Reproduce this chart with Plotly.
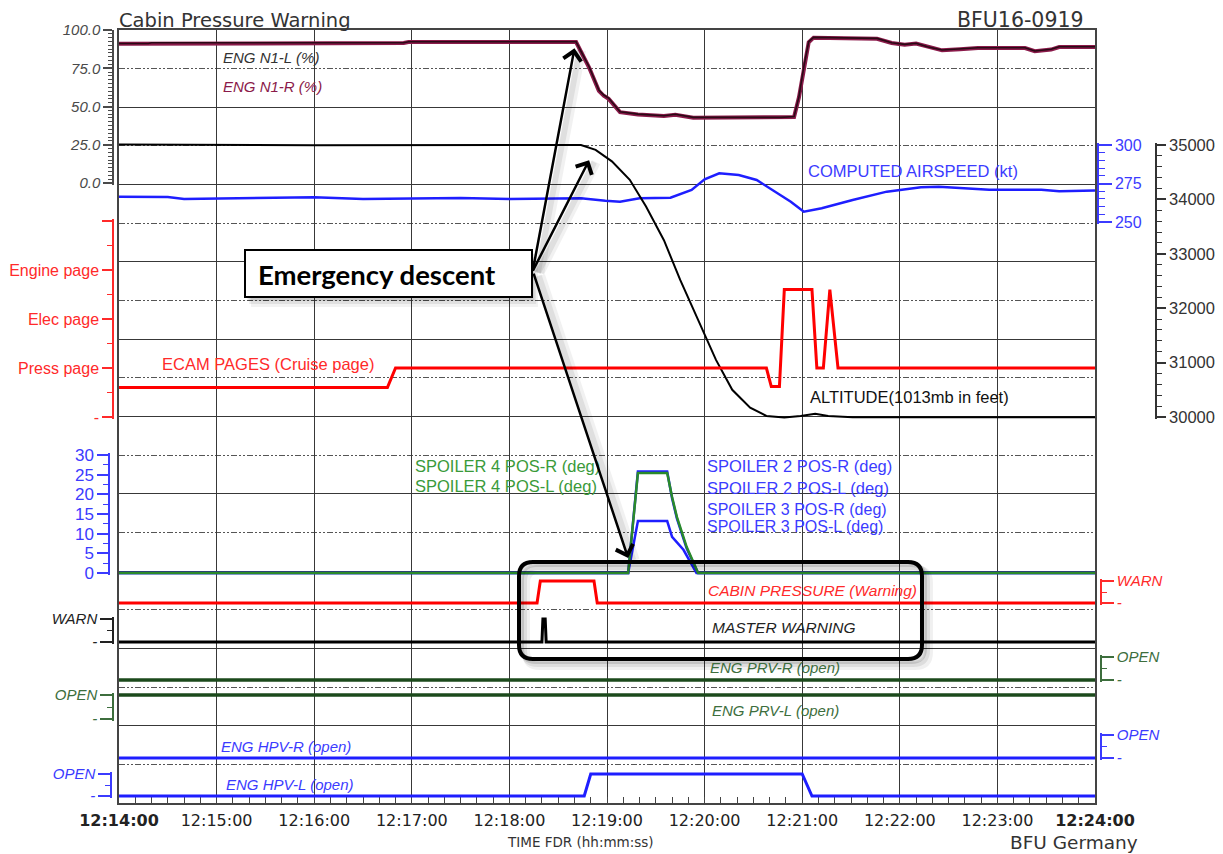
import plotly.graph_objects as go

DAY = "2016-09-19 "

# ---------------- data ----------------
n1_t = ["12:14:00","12:14:18","12:14:20","12:16:55","12:16:58","12:18:41","12:18:49","12:18:55","12:18:58","12:19:01",
        "12:19:08","12:19:19","12:19:35","12:19:42","12:19:53","12:20:16","12:20:47","12:20:55","12:20:58","12:21:01",
        "12:21:04","12:21:07","12:21:46","12:21:55","12:22:03","12:22:10","12:22:17","12:22:26","12:22:37","12:22:48",
        "12:23:17","12:23:23","12:23:33","12:23:38","12:24:00"]
n1_l = [91.2,91.2,91.7,91.7,92.3,92.3,76.0,60.8,57.5,55.5,
        46.6,45.0,44.0,44.9,42.9,42.9,42.9,43.4,56.4,76.0,
        92.3,95.2,94.5,91.7,90.6,91.3,89.1,86.9,87.6,88.4,
        88.4,86.3,87.4,89.1,89.1]
n1_r = [91.0,91.0,91.5,91.5,92.1,92.1,75.5,60.2,57.0,55.0,
        46.3,44.8,43.8,44.6,42.7,42.7,42.7,43.2,56.0,75.5,
        92.0,95.0,94.3,91.5,90.4,91.1,88.9,86.7,87.4,88.2,
        88.2,86.1,87.2,88.9,88.9]

alt_t = ["12:14:00","12:16:00","12:18:44","12:18:53","12:19:03","12:19:14","12:19:24","12:19:35","12:19:45","12:19:56",
         "12:20:07","12:20:17","12:20:28","12:20:38","12:20:49","12:20:59","12:21:08","12:21:16","12:21:31","12:22:03",
         "12:23:06","12:24:00"]
alt_ft = [35010,34995,35000,34910,34700,34360,33870,33250,32520,31780,
          31050,30500,30170,30020,29990,30020,30060,30020,29995,29995,
          30000,29995]

cas_t = ["12:14:00","12:14:30","12:14:40","12:15:30","12:16:00","12:16:30","12:17:00","12:17:30","12:18:00","12:18:31",
         "12:18:44","12:18:59","12:19:08","12:19:20","12:19:39","12:19:52","12:20:00","12:20:09","12:20:21","12:20:32",
         "12:20:42","12:20:53","12:21:01","12:21:12","12:21:31","12:21:52","12:22:13","12:22:24","12:22:55","12:23:27",
         "12:23:38","12:24:00"]
cas_kt = [266.4,266.2,265.0,265.8,266.0,265.0,265.2,265.6,265.0,265.4,
          265.4,263.8,263.2,265.4,265.8,270.8,277.7,281.6,280.5,277.3,
          270.8,263.2,256.7,258.9,264.3,269.7,272.5,272.9,271.0,271.0,
          270.0,270.4]

ecam_t = ["12:14:00","12:16:45","12:16:50","12:20:38","12:20:41","12:20:46","12:20:49","12:21:06","12:21:09","12:21:13",
          "12:21:17","12:21:22","12:24:00"]
ecam_v = [0.6,0.6,1.0,1.0,0.62,0.62,2.6,2.6,1.0,1.0,2.6,1.0,1.0]
ecam_ticks = ["-", "Press page", "Elec page", "Engine page", ""]

spo_t = ["12:14:00","12:19:13","12:19:19","12:19:37","12:19:40","12:19:43","12:19:49","12:19:56","12:24:00"]
sp4_deg = [0,0,25.4,25.4,19.3,14.2,6.6,0,0]
sp2_deg = [0,0,25.8,25.8,19.0,13.8,6.2,0,0]
sp3_t = ["12:14:00","12:19:13","12:19:19","12:19:37","12:19:40","12:19:47","12:19:55","12:24:00"]
sp3_deg = [0,0,13.2,13.2,9.2,5.9,0,0]

cp_t = ["12:14:00","12:18:17","12:18:19","12:18:52","12:18:54","12:24:00"]
cp_v = [0,0,1,1,0,0]
mw_t = ["12:14:00","12:18:20","12:18:20.6","12:18:22","12:18:22.6","12:24:00"]
mw_v = [0,0,1,1,0,0]
full_t = ["12:14:00","12:24:00"]
prv_r = [0,0]
prv_l = [1,1]
hpv_r = [0,0]
hpv_l_t = ["12:14:00","12:18:46","12:18:50","12:21:00","12:21:06","12:24:00"]
hpv_l = [0,0,1,1,0,0]

minutes = ["12:%02d:00" % m for m in range(14, 25)]

# ---------------- layout geometry (screen pixels; page has an 8px body margin) ----------------
OFF = 8
W, H = 1223 - OFF, 854 - OFF
SCR_TOP, SCR_BOT = 30, 803          # plot area top/bottom on screen
ML, MR = 0, 0
MT = SCR_TOP - OFF
MB = H - (SCR_BOT - OFF)
PW, PH = W - ML - MR, SCR_BOT - SCR_TOP


def fx(px):
    return (px - OFF - ML) / PW


def fy(py):
    return (SCR_BOT - py) / PH


def T(lst):
    return [DAY + s for s in lst]


def band(lo, hi, py_lo, py_hi, pad=2.0):
    u = (hi - lo) / (py_lo - py_hi)
    pb = min(pad, SCR_BOT - py_lo)
    pt = min(pad, py_hi - SCR_TOP)
    return [fy(py_lo + pb), fy(py_hi - pt)], [lo - pb * u, hi + pt * u]


BLUE = "#1e1eff"
BLUE_T = "#3b3bff"
RED = "#ff0000"
GREEN = "#2a8a2a"
DGREEN = "#1c4a1c"
DGREEN_T = "#3d6e3d"
MAROON = "#8b1a4a"

fig = go.Figure()


def add(x, y, yax, color, width, name):
    fig.add_trace(go.Scatter(x=T(x), y=y, xaxis="x", yaxis=yax, mode="lines", name=name,
                             line=dict(color=color, width=width), showlegend=False, hoverinfo="skip"))


# dummy traces to create grid subplots
fig.add_trace(go.Scatter(x=T(["12:14:00"]), y=[None], xaxis="x", yaxis="y", showlegend=False))
fig.add_trace(go.Scatter(x=T(["12:14:00"]), y=[None], xaxis="x", yaxis="y2", showlegend=False))
fig.add_trace(go.Scatter(x=T(["12:14:00"]), y=[None], xaxis="x2", yaxis="y", showlegend=False))

add(n1_t, n1_r, "y3", MAROON, 4, "ENG N1-R (%)")
add(n1_t, n1_l, "y3", "#2a0a16", 1.6, "ENG N1-L (%)")
add(cas_t, cas_kt, "y4", BLUE, 2.5, "COMPUTED AIRSPEED (kt)")
add(alt_t, alt_ft, "y5", "#000000", 2, "ALTITUDE")
add(ecam_t, ecam_v, "y6", RED, 3, "ECAM PAGES")
add(spo_t, sp2_deg, "y7", BLUE, 2.5, "SPOILER 2")
add(sp3_t, sp3_deg, "y7", BLUE, 2.5, "SPOILER 3")
add(spo_t, sp4_deg, "y7", GREEN, 2.5, "SPOILER 4")
add(cp_t, cp_v, "y8", RED, 3, "CABIN PRESSURE")
add(mw_t, mw_v, "y9", "#000000", 3, "MASTER WARNING")
add(full_t, prv_r, "y10", DGREEN, 3.5, "ENG PRV-R")
add(full_t, prv_l, "y11", DGREEN, 3.5, "ENG PRV-L")
add(full_t, hpv_r, "y12", BLUE, 3, "ENG HPV-R")
add(hpv_l_t, hpv_l, "y13", BLUE, 3, "ENG HPV-L")

XR = T(["12:14:00", "12:24:00"])
xdom = [fx(119), fx(1095)]


def yax(lo, hi, py_lo, py_hi, side, px, color, tickvals, ticktext, minor, size, italic=False,
        ticklen=10, mlen=5, pad=2.0):
    dom, rng = band(lo, hi, py_lo, py_hi, pad)
    return dict(domain=dom, range=rng, anchor="free", position=fx(px), side=side, automargin=False,
                showgrid=False, zeroline=False, showline=True, linecolor=color, linewidth=1.5,
                ticks="outside", ticklen=ticklen, tickwidth=1.5, tickcolor=color,
                tickvals=tickvals, ticktext=ticktext,
                minor=dict(dtick=minor, ticks="outside", ticklen=mlen, tickwidth=1.2, tickcolor=color,
                           tick0=lo, showgrid=False),
                tickfont=dict(family="Liberation Sans", size=size, color=color,
                              style="italic" if italic else "normal"),
                fixedrange=True)


GRIDC = "#383838"
layout = dict(
    width=W, height=H, margin=dict(l=ML, r=MR, t=MT, b=MB, autoexpand=False),
    paper_bgcolor="white", plot_bgcolor="rgba(0,0,0,0)", showlegend=False,
    xaxis=dict(domain=xdom, range=XR, type="date", anchor="y", showgrid=False, zeroline=False,
               automargin=False,
               showline=True, mirror=True, linecolor="#444", linewidth=2,
               tickvals=T(minutes),
               ticktext=["<b>12:14:00</b>"] + minutes[1:-1] + ["<b>12:24:00</b>"],
               ticks="inside", ticklen=6, tickcolor="#444", tickwidth=1.2,
               minor=dict(dtick=10000, ticks="inside", ticklen=6, tickcolor="#444", tickwidth=1.2),
               tickfont=dict(family="DejaVu Sans", size=16, color="#222"), ticklabelstandoff=2),
    xaxis2=dict(domain=xdom, range=XR, type="date", overlaying="x", anchor="y", showgrid=True,
                automargin=False,
                gridcolor=GRIDC, gridwidth=1.2, tickvals=T(minutes), showticklabels=False, ticks="",
                zeroline=False, showline=False),
    yaxis=dict(domain=[0, 1], range=[0, 20], tickvals=list(range(0, 21, 2)), showgrid=True,
               automargin=False,
               gridcolor=GRIDC, gridwidth=1.2, showticklabels=False, ticks="", zeroline=False,
               showline=True, mirror=True, linecolor="#444", linewidth=2),
    yaxis2=dict(overlaying="y", range=[0, 20], tickvals=list(range(1, 20, 2)), showgrid=True,
                automargin=False,
                gridcolor="#555", gridwidth=1.2, griddash="6px,2px,2px,2px,2px,2px",
                showticklabels=False, ticks="", zeroline=False, showline=False),
    yaxis3=yax(0, 100, 183, 30, "left", 113, "#4a4a4a", [0, 25, 50, 75, 100],
               ["0.0", "25.0", "50.0", "75.0", "100.0"], 2.5, 15, italic=True, ticklen=9, mlen=4),
    yaxis4=yax(250, 300, 222, 145, "right", 1098, BLUE_T, [250, 275, 300], ["250", "275", "300"], 5, 16,
               ticklen=13, mlen=6),
    yaxis5=yax(30000, 35000, 417, 145, "right", 1156, "#333", list(range(30000, 35001, 1000)),
               [str(v) for v in range(30000, 35001, 1000)], 200, 16.5, ticklen=9, mlen=5),
    yaxis6=yax(0, 4, 417, 221, "left", 113, "#ff2a2a", [0, 1, 2, 3, 4], ecam_ticks, 0.5, 16,
               ticklen=10, mlen=5),
    yaxis7=yax(0, 30, 573, 455, "left", 109, BLUE_T, [0, 5, 10, 15, 20, 25, 30],
               ["0", "5", "10", "15", "20", "25", "30"], 2.5, 17, ticklen=11, mlen=5),
    yaxis8=yax(0, 1, 603, 581, "right", 1101, "#ff2a2a", [0, 1], ["-", "WARN"], 0.5, 15, italic=True,
               ticklen=12, mlen=5),
    yaxis9=yax(0, 1, 642, 619, "left", 113, "#222", [0, 1], ["-", "WARN"], 0.5, 15, italic=True,
               ticklen=12, mlen=5),
    yaxis10=yax(0, 1, 680, 657, "right", 1101, DGREEN_T, [0, 1], ["-", "OPEN"], 0.5, 15, italic=True,
                ticklen=12, mlen=5),
    yaxis11=yax(0, 1, 719, 695, "left", 113, DGREEN_T, [0, 1], ["-", "OPEN"], 0.5, 15, italic=True,
                ticklen=12, mlen=5),
    yaxis12=yax(0, 1, 758, 735, "right", 1101, BLUE_T, [0, 1], ["-", "OPEN"], 0.5, 15, italic=True,
                ticklen=12, mlen=5),
    yaxis13=yax(0, 1, 796, 774, "left", 111, BLUE_T, [0, 1], ["-", "OPEN"], 0.5, 15, italic=True,
                ticklen=12, mlen=5),
)
fig.update_layout(**layout)


def label(text, px, py, color, size, italic=False, family="Liberation Sans", anchor="left", weight="normal"):
    return dict(text=text, x=fx(px), y=fy(py), xref="paper", yref="paper", xanchor=anchor,
                yanchor="middle", showarrow=False,
                font=dict(family=family, size=size, color=color, style="italic" if italic else "normal",
                          weight=weight))


ann = [
    label("Cabin Pressure Warning", 117, 20, "#333", 19.5, family="DejaVu Sans"),
    label("BFU16-0919", 1086, 19.5, "#333", 20.5, family="DejaVu Sans", anchor="right"),
    label("TIME FDR (hh:mm:ss)", 580, 842, "#333", 13.5, family="DejaVu Sans", anchor="center"),
    label("BFU Germany", 1140, 842, "#333", 18.5, family="DejaVu Sans", anchor="right"),
    label("ENG N1-L (%)", 221, 57, "#333", 15, italic=True),
    label("ENG N1-R (%)", 221, 87, MAROON, 15, italic=True),
    label("COMPUTED AIRSPEED (kt)", 806, 171, BLUE_T, 16.5),
    label("ALTITUDE(1013mb in feet)", 808, 397, "#111", 16.5),
    label("ECAM PAGES (Cruise page)", 160, 364, "#ff2a2a", 16.5),
    label("SPOILER 4 POS-R (deg)", 413, 466, "#3a9a3a", 16.5),
    label("SPOILER 4 POS-L (deg)", 413, 486, "#3a9a3a", 16.5),
    label("SPOILER 2 POS-R (deg)", 705, 466, BLUE_T, 16.5),
    label("SPOILER 2 POS-L (deg)", 705, 488, BLUE_T, 16.5),
    label("SPOILER 3 POS-R (deg)", 705, 509, BLUE_T, 16),
    label("SPOILER 3 POS-L (deg)", 705, 526, BLUE_T, 16),
    label("CABIN PRESSURE (Warning)", 706, 590, "#ff2a2a", 15.5, italic=True),
    label("MASTER WARNING", 710, 627, "#222", 15.5, italic=True),
    label("ENG PRV-R (open)", 708, 667, DGREEN_T, 15, italic=True),
    label("ENG PRV-L (open)", 710, 710, DGREEN_T, 15, italic=True),
    label("ENG HPV-R (open)", 219, 746, BLUE_T, 15, italic=True),
    label("ENG HPV-L (open)", 224, 784, BLUE_T, 15, italic=True),
    label("Emergency descent", 256, 274, "#000", 27.5, family="Lato", weight="bold"),
]

arrow_targets = [
    (DAY + "12:18:40", 88, "y3", -42, 224),
    (DAY + "12:18:49", 34720, "y5", -57, 112),
    (DAY + "12:19:13", 3.8, "y7", -95, -286),
]
# soft shadows of the arrows
for xt, yt, yr, axp, ayp in arrow_targets:
    for sh, a, w in [(7, 0.05, 9), (5, 0.07, 6)]:
        ann.append(dict(x=xt, y=yt, xref="x", yref=yr, ax=axp, ay=ayp, axref="pixel", ayref="pixel",
                        showarrow=True, arrowhead=0, arrowwidth=w, arrowcolor="rgba(0,0,0,%.2f)" % a,
                        text="", standoff=0, xshift=sh, yshift=-2))
for xt, yt, yr, axp, ayp in arrow_targets:
    ann.append(dict(x=xt, y=yt, xref="x", yref=yr, ax=axp, ay=ayp, axref="pixel", ayref="pixel",
                    showarrow=True, arrowhead=4, arrowsize=1.4, arrowwidth=2.5, arrowcolor="#000",
                    text="", standoff=0))
fig.update_layout(annotations=ann)


def rrect(x0, y0, x1, y1, r):
    p = []
    p.append("M%.5f,%.5f" % (fx(x0 + r), fy(y0)))
    p.append("L%.5f,%.5f" % (fx(x1 - r), fy(y0)))
    p.append("Q%.5f,%.5f %.5f,%.5f" % (fx(x1), fy(y0), fx(x1), fy(y0 + r)))
    p.append("L%.5f,%.5f" % (fx(x1), fy(y1 - r)))
    p.append("Q%.5f,%.5f %.5f,%.5f" % (fx(x1), fy(y1), fx(x1 - r), fy(y1)))
    p.append("L%.5f,%.5f" % (fx(x0 + r), fy(y1)))
    p.append("Q%.5f,%.5f %.5f,%.5f" % (fx(x0), fy(y1), fx(x0), fy(y1 - r)))
    p.append("L%.5f,%.5f" % (fx(x0), fy(y0 + r)))
    p.append("Q%.5f,%.5f %.5f,%.5f" % (fx(x0), fy(y0), fx(x0 + r), fy(y0)))
    p.append("Z")
    return " ".join(p)


shapes = []
# shadow + box for "Emergency descent"
for off, a in [(10, 0.05), (7, 0.07), (4, 0.09)]:
    shapes.append(dict(type="rect", xref="paper", yref="paper", x0=fx(245 + off * 0.6), x1=fx(532 + off * 0.6),
                       y0=fy(297 + off), y1=fy(250 + off), line=dict(width=0),
                       fillcolor="rgba(0,0,0,%.2f)" % a))
shapes.append(dict(type="rect", xref="paper", yref="paper", x0=fx(245), x1=fx(532), y0=fy(297), y1=fy(250),
                   line=dict(color="#000", width=2), fillcolor="white"))
# rounded highlight box with soft shadow
for off, a, w in [(7, 0.06, 8), (5, 0.08, 6), (3, 0.12, 4)]:
    shapes.append(dict(type="path", xref="paper", yref="paper",
                       path=rrect(519 + off, 562 + off, 922 + off, 659 + off, 14),
                       line=dict(color="rgba(0,0,0,%.2f)" % a, width=w)))
shapes.append(dict(type="path", xref="paper", yref="paper", path=rrect(519, 562, 922, 659, 14),
                   line=dict(color="#000", width=4)))
fig.update_layout(shapes=shapes)

fig.write_html("out.html")
